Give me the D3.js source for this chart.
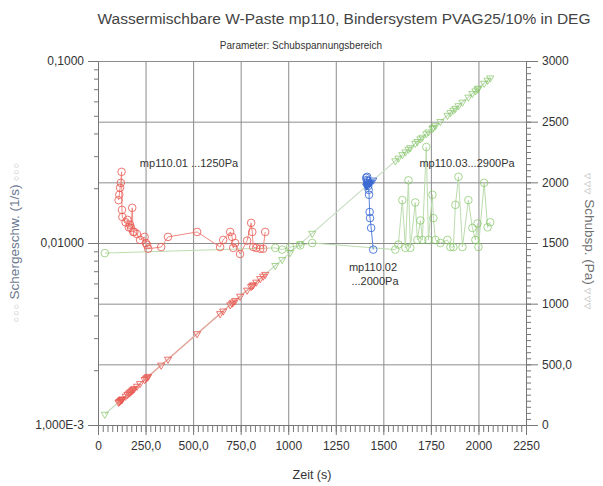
<!DOCTYPE html>
<html>
<head>
<meta charset="utf-8">
<script src="https://cdn.jsdelivr.net/npm/d3@7"></script>
<style>
  html, body { margin: 0; padding: 0; background: #fff; }
  svg { display: block; font-family: "Liberation Sans", Arial, sans-serif; }
</style>
</head>
<body>
<svg id="chart" width="603" height="486"></svg>
<script>
// Time axis (s), shear rate (1/s, log axis left), shear stress (Pa, right axis)
const timeTicks = [0, 250, 500, 750, 1000, 1250, 1500, 1750, 2000, 2250];
const timeTickLabels = ["0", "250,0", "500,0", "750,0", "1000", "1250", "1500", "1750", "2000", "2250"];
const rateTicks = [0.001, 0.01, 0.1];
const rateTickLabels = ["1,000E-3", "0,01000", "0,1000"];
const stressTicks = [0, 500, 1000, 1500, 2000, 2500, 3000];
const stressTickLabels = ["0", "500,0", "1000", "1500", "2000", "2500", "3000"];

// mp110.01 (ramp up to 1250 Pa)
const redTime   = [108, 112, 116, 120, 124, 126, 128, 145, 155, 162, 168, 174, 180, 185, 191, 205, 221, 245, 252, 258, 264, 332, 368, 521, 642, 658, 695, 705, 711, 721, 747, 784, 805, 811, 816, 832, 853, 868, 879];
const redRate   = [0.0172, 0.0184, 0.0201, 0.0214, 0.0246, 0.0152, 0.0139, 0.0130, 0.0134, 0.0122, 0.0126, 0.0121, 0.0156, 0.0115, 0.0115, 0.0112, 0.0104, 0.0108, 0.0100, 0.00975, 0.0093, 0.0095, 0.0108, 0.0115, 0.0095, 0.0104, 0.0115, 0.0108, 0.0094, 0.0100, 0.0087, 0.0103, 0.0129, 0.0115, 0.0095, 0.0094, 0.0093, 0.0093, 0.0115];
const redStress = [187, 192, 198, 203, 209, 211, 214, 237, 251, 261, 269, 277, 285, 292, 300, 319, 341, 374, 384, 392, 400, 493, 542, 752, 917, 939, 990, 1003, 1012, 1025, 1061, 1111, 1140, 1148, 1155, 1177, 1206, 1226, 1241];

// mp110.02 (ramp up to 2000 Pa)
const blueTime   = [1410, 1413, 1415, 1417, 1419, 1421, 1423, 1425, 1428, 1430, 1436, 1447];
const blueRate   = [0.0228, 0.0222, 0.0231, 0.0214, 0.0219, 0.0206, 0.0196, 0.0184, 0.0148, 0.0137, 0.0121, 0.0092];
const blueStress = [1968, 1972, 1975, 1977, 1980, 1983, 1986, 1988, 1992, 1995, 2003, 2018];

// mp110.03 (ramp up to 2900 Pa)
const greenTime   = [36, 932, 968, 1010, 1063, 1126, 1563, 1579, 1600, 1616, 1632, 1642, 1668, 1679, 1695, 1705, 1726, 1737, 1758, 1763, 1774, 1800, 1837, 1853, 1868, 1879, 1895, 1916, 1947, 1968, 1984, 1995, 2000, 2030, 2048, 2062];
const greenRate   = [0.0088, 0.0094, 0.0092, 0.0095, 0.0097, 0.0100, 0.0092, 0.0098, 0.0172, 0.0094, 0.0221, 0.0094, 0.0167, 0.0104, 0.0133, 0.0104, 0.0337, 0.0104, 0.0184, 0.0137, 0.0104, 0.0100, 0.0104, 0.0095, 0.0095, 0.0162, 0.0231, 0.0095, 0.0172, 0.0121, 0.0104, 0.0128, 0.0095, 0.0214, 0.0122, 0.0130];
const greenStress = [88, 1314, 1363, 1421, 1493, 1579, 2177, 2199, 2228, 2250, 2272, 2285, 2321, 2336, 2358, 2371, 2400, 2415, 2444, 2451, 2466, 2501, 2552, 2574, 2594, 2609, 2631, 2660, 2702, 2731, 2753, 2768, 2775, 2816, 2841, 2860];

const colRed = "#e9574f", colBlue = "#3867d2", colGreen = "#7ec25c";
const svg = d3.select("#chart");
const plotLeft = 98, plotRight = 526, plotTop = 61, plotBottom = 425;

const x = d3.scaleLinear().domain([0, 2250]).range([plotLeft, plotRight]);
const yRate = d3.scaleLog().domain([0.001, 0.1]).range([plotBottom, plotTop]);
const yStress = d3.scaleLinear().domain([0, 3000]).range([plotBottom, plotTop]);

// grid
const grid = svg.append("g").attr("stroke", "#8c8c8c").attr("stroke-width", 1);
grid.selectAll("line.v").data(timeTicks.filter(t => t > 0 && t < 2250)).join("line")
  .attr("x1", d => x(d) + 0.5).attr("x2", d => x(d) + 0.5).attr("y1", plotTop).attr("y2", plotBottom);
grid.selectAll("line.h").data(stressTicks.filter(s => s > 0)).join("line")
  .attr("x1", plotLeft).attr("x2", plotRight).attr("y1", d => yStress(d) + 0.5).attr("y2", d => yStress(d) + 0.5);

// axes
function styleAxis(g) {
  g.selectAll("path.domain").attr("stroke", "#777");
  g.selectAll(".tick line").attr("stroke", "#777");
  g.selectAll(".tick text").attr("fill", "#333").attr("font-size", 12)
    .attr("font-family", "'Liberation Sans Narrow', 'Liberation Sans', Arial, sans-serif");
}
const minorRate = [];
[0.001, 0.01].forEach(dec => { for (let k = 2; k <= 9; k++) minorRate.push(dec * k); });

svg.append("g").attr("transform", `translate(${plotLeft},0)`)
  .call(d3.axisLeft(yRate).tickValues(minorRate).tickSize(4).tickFormat(""))
  .call(styleAxis);
svg.append("g").attr("transform", `translate(${plotLeft},0)`)
  .call(d3.axisLeft(yRate).tickValues(rateTicks).tickSize(10).tickPadding(4)
    .tickFormat((d, i) => rateTickLabels[i]))
  .call(styleAxis);

svg.append("g").attr("transform", `translate(0,${plotBottom})`)
  .call(d3.axisBottom(x).tickValues(d3.range(0, 2251, 25)).tickSize(7).tickFormat(""))
  .call(styleAxis);
svg.append("g").attr("transform", `translate(0,${plotBottom})`)
  .call(d3.axisBottom(x).tickValues(timeTicks).tickSize(10).tickPadding(6)
    .tickFormat((d, i) => timeTickLabels[i]))
  .call(styleAxis);

svg.append("g").attr("transform", `translate(${plotRight},0)`)
  .call(d3.axisRight(yStress).tickValues(d3.range(0, 3001, 50)).tickSize(5).tickFormat(""))
  .call(styleAxis);
svg.append("g").attr("transform", `translate(${plotRight},0)`)
  .call(d3.axisRight(yStress).tickValues(stressTicks).tickSize(12).tickPadding(4)
    .tickFormat((d, i) => stressTickLabels[i]))
  .call(styleAxis);

// top frame
svg.append("line").attr("x1", plotLeft).attr("x2", plotRight).attr("y1", plotTop + 0.5).attr("y2", plotTop + 0.5)
  .attr("stroke", "#8c8c8c");

// series
const tri = d3.symbol().type(d3.symbolTriangle).size(22);
function drawSeries(time, rate, stress, color, lineColor, stressLineColor, markerOpacity) {
  const pts = time.map((t, i) => ({ t, r: rate[i], s: stress[i] }));
  const g = svg.append("g");
  g.append("path").datum(pts)
    .attr("d", d3.line().x(d => x(d.t)).y(d => yStress(d.s)))
    .attr("fill", "none").attr("stroke", stressLineColor).attr("stroke-width", 1.2);
  g.selectAll("path.tri").data(pts).join("path")
    .attr("d", tri)
    .attr("transform", d => `translate(${x(d.t)},${yStress(d.s)}) rotate(180)`)
    .attr("fill", "none").attr("stroke", color).attr("stroke-width", 0.9).attr("opacity", markerOpacity);
  g.append("path").datum(pts)
    .attr("d", d3.line().x(d => x(d.t)).y(d => yRate(d.r)))
    .attr("fill", "none").attr("stroke", lineColor).attr("stroke-width", 1);
  g.selectAll("circle").data(pts).join("circle")
    .attr("cx", d => x(d.t)).attr("cy", d => yRate(d.r)).attr("r", 3.8)
    .attr("fill", "none").attr("stroke", color).attr("stroke-width", 0.9).attr("opacity", markerOpacity);
}
drawSeries(greenTime, greenRate, greenStress, colGreen, "#bcdcae", "#c8dcc4", 0.75);
drawSeries(redTime, redRate, redStress, colRed, "#ee8a82", "#e9a29b", 0.9);
drawSeries(blueTime, blueRate, blueStress, colBlue, "#5b82db", "#8aa6e4", 0.95);

// series annotations
const ann = svg.append("g").attr("fill", "#333").attr("font-size", 11)
  .attr("font-family", "'Liberation Sans Narrow', 'Liberation Sans', Arial, sans-serif");
ann.append("text").attr("x", 189).attr("y", 167).attr("text-anchor", "middle").text("mp110.01 ...1250Pa");
ann.append("text").attr("x", 373).attr("y", 271).attr("text-anchor", "middle").text("mp110.02");
ann.append("text").attr("x", 375).attr("y", 285).attr("text-anchor", "middle").text("...2000Pa");
ann.append("text").attr("x", 467).attr("y", 167).attr("text-anchor", "middle").text("mp110.03...2900Pa");

// titles
svg.append("text").attr("x", 344).attr("y", 24).attr("font-size", 15.5).attr("fill", "#444")
  .attr("text-anchor", "middle")
  .text("Wassermischbare W-Paste mp110, Bindersystem PVAG25/10% in DEG");
svg.append("text").attr("x", 301).attr("y", 49).attr("font-size", 10).attr("fill", "#333")
  .attr("text-anchor", "middle")
  .text("Parameter: Schubspannungsbereich");
svg.append("text").attr("x", 312).attr("y", 479).attr("font-size", 12.5).attr("fill", "#333")
  .attr("text-anchor", "middle").text("Zeit (s)");

const yTitle = svg.append("text").attr("transform", "translate(19,242) rotate(-90)")
  .attr("text-anchor", "middle").attr("font-size", 13.5);
yTitle.append("tspan").attr("fill", "#b0b0b0").attr("font-size", 9).attr("letter-spacing", 1).text("○○○ ");
yTitle.append("tspan").attr("fill", "#6b7890").text("Schergeschw. (1/s)");
yTitle.append("tspan").attr("fill", "#b0b0b0").attr("font-size", 9).attr("letter-spacing", 1).text(" ○○○");

const y2Title = svg.append("text").attr("transform", "translate(585,242) rotate(90)")
  .attr("text-anchor", "middle").attr("font-size", 13.5);
y2Title.append("tspan").attr("fill", "#a8a8a8").attr("font-size", 8).attr("letter-spacing", 1.5).text("▽▽▽ ");
y2Title.append("tspan").attr("fill", "#707070").text("Schubsp. (Pa)");
y2Title.append("tspan").attr("fill", "#a8a8a8").attr("font-size", 8).attr("letter-spacing", 1.5).text(" ▽▽▽");
</script>
</body>
</html>
